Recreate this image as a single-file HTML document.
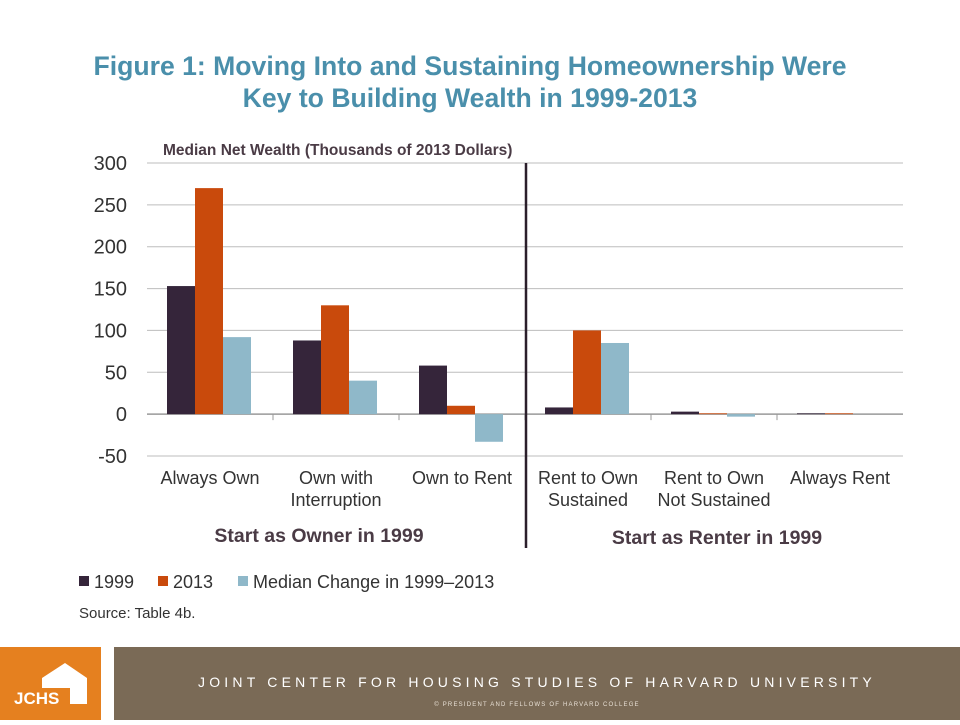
<!DOCTYPE html>
<html><head><meta charset="utf-8"><style>
body{margin:0;width:960px;height:720px;background:#fff;font-family:"Liberation Sans",sans-serif;position:relative;overflow:hidden}
.t{position:absolute;white-space:nowrap}
</style></head><body>
<div class="t" style="left:0;width:940px;top:50px;text-align:center;color:#4a8fab;font-weight:bold;font-size:26.6px;line-height:32px">Figure 1: Moving Into and Sustaining Homeownership Were<br>Key to Building Wealth in 1999-2013</div>
<svg id="c" width="960" height="640" style="position:absolute;left:0;top:0"></svg>
<div style="position:absolute;left:0;top:647px;width:101px;height:73px;background:#e5801f">
<svg width="101" height="73"><path d="M42 31 L65 16 L87 31 L87 57 L70 57 L70 41 L42 41 Z" fill="#fff"/><text x="14" y="57" fill="#fff" font-size="17" font-weight="bold" font-family="Liberation Sans">JCHS</text></svg></div>
<div style="position:absolute;left:114px;top:647px;width:846px;height:73px;background:#7a6a56">
<div class="t" style="left:0;width:846px;top:27px;text-align:center;color:#fff;font-size:14px;letter-spacing:4.2px">JOINT CENTER FOR HOUSING STUDIES OF HARVARD UNIVERSITY</div>
<div class="t" style="left:0;width:846px;top:55px;text-align:center;color:#e8e0d5;font-size:6px;letter-spacing:1.2px">© PRESIDENT AND FELLOWS OF HARVARD COLLEGE</div></div>
<script>
const categories=[["Always Own"],["Own with","Interruption"],["Own to Rent"],["Rent to Own","Sustained"],["Rent to Own","Not Sustained"],["Always Rent"]];
const v1999=[153,88,58,8,3,1];
const v2013=[270,130,10,100,1,1];
const vChange=[92,40,-33,85,-3,0];
const ticks=[300,250,200,150,100,50,0,-50];
const seriesNames=["1999","2013","Median Change in 1999–2013"];
const colors=["#35253a","#c94a0c","#8fb8c9"];
const svg=document.getElementById('c');const NS="http://www.w3.org/2000/svg";
const x0=147,x1=903,yTop=163,yBot=456,vmax=300,vmin=-50;
const y=v=>yTop+(vmax-v)/(vmax-vmin)*(yBot-yTop);
const cw=(x1-x0)/categories.length;
function mk(t,a){const e=document.createElementNS(NS,t);for(const k in a)e.setAttribute(k,a[k]);svg.appendChild(e);return e;}
ticks.forEach(t=>{
 if(t!==0){const l=mk('line',{x1:x0,x2:x1,y1:y(t),y2:y(t),stroke:'#bdbdbd','stroke-width':1});
 
 }
 const tx=mk('text',{x:127,y:y(t)+7,'text-anchor':'end','font-size':20,fill:'#333','font-family':'Liberation Sans'});tx.textContent=t;
 
 
});
const ax=mk('line',{x1:x0,x2:x1,y1:y(0),y2:y(0),stroke:'#999','stroke-width':1.5});


const sets=[v1999,v2013,vChange];
categories.forEach((c,i)=>{
 const cx=x0+i*cw;
 if(i>0){const tk=mk('line',{x1:cx,x2:cx,y1:y(0),y2:y(0)+6,stroke:'#999'});
 
 }
 sets.forEach((s,j)=>{const v=s[i];const a=y(Math.max(v,0)),b=y(Math.min(v,0));
  const r=mk('rect',{x:cx+20+j*28,y:a,width:28,height:Math.max(b-a,0.01),fill:colors[j]});
  
  });
 c.forEach((ln,k)=>{const t=mk('text',{x:cx+cw/2,y:484+k*22,'text-anchor':'middle','font-size':18,fill:'#333','font-family':'Liberation Sans'});t.textContent=ln;
  
  });
});
const dv=mk('line',{x1:526,x2:526,y1:163,y2:548,stroke:'#2b1f2b','stroke-width':2.5});


[["Median Net Wealth (Thousands of 2013 Dollars)",163,155,15.5,'start','y-axis-title'],["Start as Owner in 1999",319,542,19.5,'middle','group-label-owner'],["Start as Renter in 1999",717,544,19.5,'middle','group-label-renter']].forEach(a=>{
 const t=mk('text',{x:a[1],y:a[2],'font-size':a[3],'font-weight':'bold',fill:'#4a3b45','text-anchor':a[4],'font-family':'Liberation Sans'});t.textContent=a[0];
 
 
});
const legX=[79,158,238];
seriesNames.forEach((n,j)=>{
 const r=mk('rect',{x:legX[j],y:576,width:10,height:10,fill:colors[j]});
 
 
 const t=mk('text',{x:legX[j]+15,y:588,'font-size':18,fill:'#333','font-family':'Liberation Sans'});t.textContent=n;
 
 
});
const s=mk('text',{x:79,y:618,'font-size':15,fill:'#333','font-family':'Liberation Sans'});s.textContent="Source: Table 4b.";


</script>
</body></html>
